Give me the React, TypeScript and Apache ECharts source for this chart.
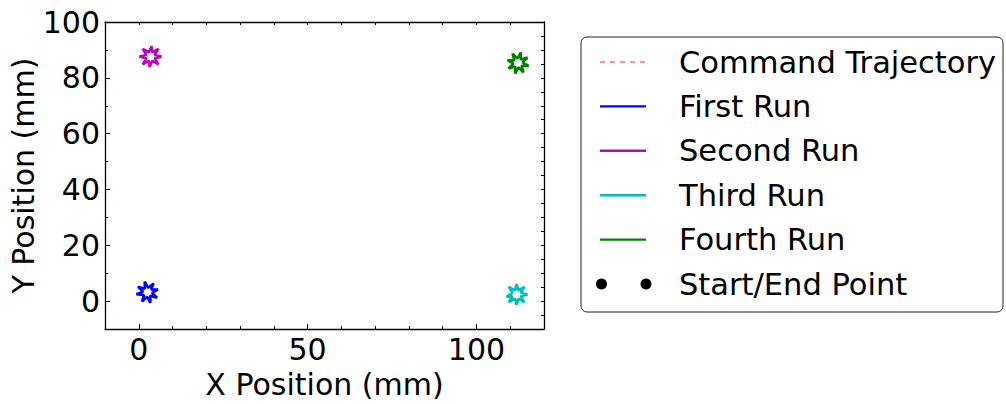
import React, { useEffect, useRef } from "react";
import * as echarts from "echarts";

// ---- data (mm) ----
const commandTrajectory: [number, number][] = [
  [0.4, 2.0], [0.0, 2.8], [0.1, 3.6], [0.5, 4.3],
];

const firstRun: [number, number][] = [
  [5.75, 4.21], [3.66, 4.17], [4.4, 6.3], [2.77, 4.78], [1.76, 6.98], [1.79, 4.47],
  [-0.22, 5.15], [1.28, 3.41], [-0.7, 2.5], [1.54, 2.23], [0.97, -0.18], [2.43, 1.62],
  [3.44, -0.58], [3.41, 1.93], [5.42, 1.25], [3.92, 2.99], [5.75, 4.21],
];

const secondRun: [number, number][] = [
  [6.76, 87.6], [4.73, 88.21], [5.81, 90.36], [4.01, 89.08], [3.8, 91.3], [2.99, 89.08],
  [1.19, 90.36], [2.27, 88.21], [0.24, 87.6], [2.27, 86.99], [1.19, 84.84], [2.99, 86.12],
  [3.2, 83.9], [4.01, 86.12], [5.81, 84.84], [4.73, 86.99], [6.76, 87.6],
];

const thirdRun: [number, number][] = [
  [115.16, 2.4], [113.13, 3.01], [114.21, 5.16], [112.41, 3.88], [111.9, 6.1], [111.39, 3.88],
  [109.59, 5.16], [110.67, 3.01], [108.9, 1.6], [110.67, 1.79], [109.59, -0.36], [111.39, 0.92],
  [111.9, -1.3], [112.41, 0.92], [114.21, -0.36], [113.13, 1.79], [115.16, 2.4],
];

const fourthRun: [number, number][] = [
  [109.15, 86.31], [111.24, 86.27], [110.67, 88.68], [112.13, 86.88], [113.14, 89.08], [113.11, 86.57],
  [115.12, 87.25], [113.62, 85.51], [115.45, 84.29], [113.36, 84.33], [113.93, 81.92], [112.47, 83.72],
  [111.46, 81.52], [111.49, 84.03], [109.48, 83.35], [110.98, 85.09], [109.15, 86.31],
];

const legendNames = [
  "Command Trajectory",
  "First Run",
  "Second Run",
  "Third Run",
  "Fourth Run",
  "Start/End Point",
];
const runColors = ["#ff5555", "#0000ff", "#bf00bf", "#00bfbf", "#008000", "#000000"];

const xLabelValues = [0, 50, 100];
const yLabelValues = [0, 20, 40, 60, 80, 100];

const FONT = "DejaVu Sans";
const FS = 30;

export default function App() {
  const ref = useRef<HTMLDivElement>(null);

  useEffect(() => {
    if (!ref.current) return;
    const chart = echarts.init(ref.current, undefined, { renderer: "svg" });

    const runs = [commandTrajectory, firstRun, secondRun, thirdRun, fourthRun];

    const series: any[] = runs.map((d, i) => ({
      type: "line",
      name: legendNames[i],
      data: d,
      xAxisIndex: 0,
      yAxisIndex: 0,
      showSymbol: false,
      symbol: "none",
      z: i === 0 ? 1 : 2,
      lineStyle: {
        color: runColors[i],
        width: i === 0 ? 1.5 : 2.6,
        type: i === 0 ? [4, 4] : "solid",
        opacity: i === 0 ? 0.8 : 1,
      },
    }));

    // legend drawn as graphics
    const lx = 581, ly = 37, lw = 422, lh = 275;
    const rowY0 = 62, rowStep = 44.4;
    const legendEls: any[] = [
      {
        type: "rect",
        shape: { x: lx, y: ly, width: lw, height: lh, r: 6 },
        style: { fill: "#fff", stroke: "#222", lineWidth: 1 },
        z: 10,
      },
    ];
    legendNames.forEach((name, i) => {
      const cy = rowY0 + i * rowStep;
      if (i === legendNames.length - 1) {
        legendEls.push({ type: "circle", shape: { cx: 601.5, cy, r: 5.5 }, style: { fill: runColors[i] }, z: 11 });
        legendEls.push({ type: "circle", shape: { cx: 646, cy, r: 5.5 }, style: { fill: runColors[i] }, z: 11 });
      } else {
        legendEls.push({
          type: "line",
          shape: { x1: 600, y1: cy, x2: 646, y2: cy },
          style: {
            stroke: runColors[i],
            lineWidth: i === 0 ? 1.5 : 2.4,
            lineDash: i === 0 ? [5, 5] : null,
            opacity: i === 0 ? 0.85 : 1,
          },
          z: 11,
        });
      }
      legendEls.push({
        type: "text",
        x: 679,
        y: cy,
        style: {
          text: name,
          fill: "#000",
          font: `30.5px "${FONT}"`,
          verticalAlign: "middle",
          textAlign: "left",
        },
        z: 11,
      });
    });

    const axisLineStyle = { color: "#000", width: 1.3 };

    chart.setOption({
      animation: false,
      backgroundColor: "#fff",
      grid: { left: 105, top: 22, width: 439, height: 310, containLabel: false },
      xAxis: [
        {
          type: "value",
          min: -10,
          max: 120,
          interval: 10,
          position: "bottom",
          axisLine: { show: true, onZero: false, lineStyle: axisLineStyle },
          axisTick: { show: true, inside: true, length: 5, customValues: xLabelValues, lineStyle: { color: "#000" } },
          axisLabel: { customValues: xLabelValues, fontSize: FS, fontFamily: FONT, color: "#000", margin: 5 },
          splitLine: { show: false },
          name: "X Position (mm)",
          nameLocation: "middle",
          nameGap: 37,
          nameTextStyle: { fontSize: FS, fontFamily: FONT, color: "#000", verticalAlign: "top" },
        },
        {
          type: "value",
          min: -10,
          max: 120,
          interval: 10,
          position: "bottom",
          axisLine: { show: false, onZero: false },
          axisTick: { show: true, inside: true, length: 3, lineStyle: { color: "#000" } },
          axisLabel: { show: false },
          splitLine: { show: false },
        },
        {
          type: "value",
          min: -10,
          max: 120,
          interval: 10,
          position: "top",
          axisLine: { show: true, onZero: false, lineStyle: axisLineStyle },
          axisTick: { show: true, inside: true, length: 3, lineStyle: { color: "#000" } },
          axisLabel: { show: false },
          splitLine: { show: false },
        },
      ],
      yAxis: [
        {
          type: "value",
          min: -10,
          max: 100,
          interval: 10,
          position: "left",
          axisLine: { show: true, onZero: false, lineStyle: axisLineStyle },
          axisTick: { show: true, inside: true, length: 5, customValues: yLabelValues, lineStyle: { color: "#000" } },
          axisLabel: { customValues: yLabelValues, fontSize: FS, fontFamily: FONT, color: "#000", margin: 5 },
          splitLine: { show: false },
          name: "Y Position (mm)",
          nameLocation: "middle",
          nameGap: 65,
          nameRotate: 90,
          nameTextStyle: { fontSize: FS, fontFamily: FONT, color: "#000" },
        },
        {
          type: "value",
          min: -10,
          max: 100,
          interval: 10,
          position: "left",
          axisLine: { show: false, onZero: false },
          axisTick: { show: true, inside: true, length: 3, lineStyle: { color: "#000" } },
          axisLabel: { show: false },
          splitLine: { show: false },
        },
        {
          type: "value",
          min: -10,
          max: 100,
          interval: 5,
          position: "right",
          axisLine: { show: true, onZero: false, lineStyle: axisLineStyle },
          axisTick: { show: true, inside: true, length: 3, lineStyle: { color: "#000" } },
          axisLabel: { show: false },
          splitLine: { show: false },
        },
      ],
      series,
      graphic: { elements: legendEls },
    });

    return () => chart.dispose();
  }, []);

  return (
    <div
      ref={ref}
      style={{ position: "fixed", left: 0, top: 0, width: 1006, height: 404, background: "#fff" }}
    />
  );
}
